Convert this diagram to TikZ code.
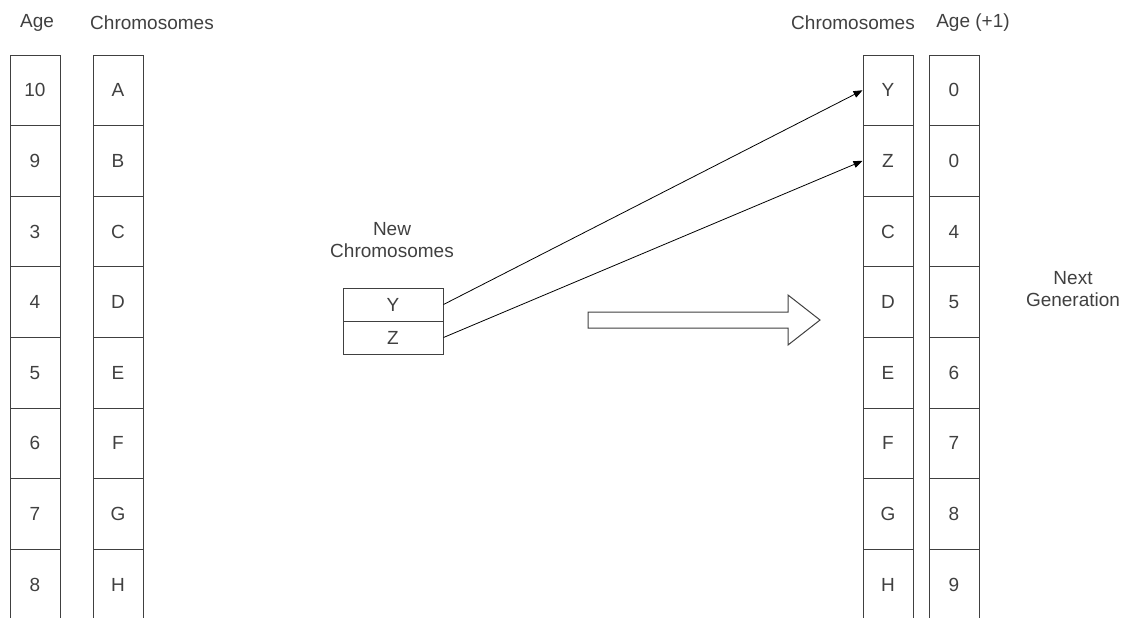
\documentclass[tikz,border=0pt]{standalone}
\usepackage{fontspec}
\setmainfont{Liberation Sans}
\usetikzlibrary{arrows.meta}
\begin{document}
\begin{tikzpicture}[x=1pt,y=-1pt,
  txt/.style={text=black!75,font=\fontsize{19}{22}\selectfont,inner sep=0pt},
  cell/.style={txt,draw=black!75,line width=1pt,minimum width=50pt,minimum height=70.6pt},
  ncell/.style={txt,draw=black!75,line width=1pt,minimum width=100pt,minimum height=33pt},
  conn/.style={black,line width=0.8pt,-{Triangle[length=9pt,width=7pt]}},
  blockarrow/.style={draw=black!75,line width=1pt,fill=white}]
\useasboundingbox (0,0) rectangle (1131,619);
\begin{scope}
\clip (0,0) rectangle (1131,617.5);
% headers
\node[txt] (hAge) at (37,23) {Age};
\node[txt] (hChr) at (152,23) {Chromosomes};
\node[txt] (hChr2) at (853,23) {Chromosomes};
\node[txt] (hAge2) at (973,23) {Age (+1)};
% left columns
\foreach \a/\c [count=\i from 0] in {10/A,9/B,3/C,4/D,5/E,6/F,7/G,8/H}{
  \node[cell] (la\i) at (35,{55+70.6*(\i+0.5)}) {\a};
  \node[cell] (lc\i) at (118,{55+70.6*(\i+0.5)}) {\c};
}
% right columns
\foreach \c/\a [count=\i from 0] in {Y/0,Z/0,C/4,D/5,E/6,F/7,G/8,H/9}{
  \node[cell] (rc\i) at (888,{55+70.6*(\i+0.5)}) {\c};
  \node[cell] (ra\i) at (954,{55+70.6*(\i+0.5)}) {\a};
}
\end{scope}
\fill[white] (0,618) rectangle (1131,621);
% new chromosomes
\node[txt,align=center] (newlbl) at (392,240) {New\\Chromosomes};
\node[ncell] (ny) at (393,304.5) {Y};
\node[ncell] (nz) at (393,337.5) {Z};
% connectors
\draw[conn] (ny.east) -- (rc0.west);
\draw[conn] (nz.east) -- (rc1.west);
% block arrow
\draw[blockarrow] (588,312) -- (788,312) -- (788,295) -- (820,320) -- (788,345) -- (788,328) -- (588,328) -- cycle;
% next generation
\node[txt,align=center] (nextgen) at (1073,289) {Next\\Generation};
\end{tikzpicture}
\end{document}
